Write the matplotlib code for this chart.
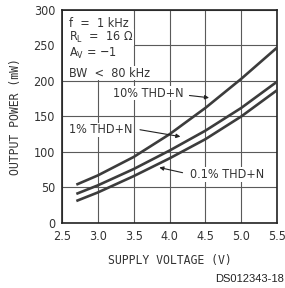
import matplotlib
matplotlib.use("Agg")
import matplotlib.pyplot as plt
from matplotlib.patches import Rectangle

# supply voltage (V) and output power (mW)
voltage = [2.7, 3.0, 3.5, 4.0, 4.5, 5.0, 5.5]
thd_10 = [54, 67, 93, 125, 162, 203, 247]
thd_1 = [41, 53, 76, 102, 130, 162, 199]
thd_01 = [31, 43, 66, 91, 118, 150, 187]

x_ticks = [2.5, 3.0, 3.5, 4.0, 4.5, 5.0, 5.5]
y_ticks = [0, 50, 100, 150, 200, 250, 300]

conditions = ["f  =  1 kHz", "R$_\\mathregular{L}$  =  16 Ω", "A$_\\mathregular{V}$ = \u22121", "BW  <  80 kHz"]

line_col = "#3c3c3c"
txt_col = "#333333"
mono = "DejaVu Sans Mono"
cond = dict(family="DejaVu Sans", stretch="condensed")

fig = plt.figure(figsize=(2.85, 2.88), dpi=100)
ax = fig.add_axes([0.2175, 0.2257, 0.7545, 0.7396])

for series in (thd_10, thd_1, thd_01):
    ax.plot(voltage, series, color=line_col, lw=1.9, solid_capstyle="butt", zorder=3)

ax.set_xlim(2.5, 5.5)
ax.set_ylim(0, 300)
ax.set_xticks(x_ticks)
ax.set_yticks(y_ticks)
ax.set_xticklabels([f"{v:.1f}" for v in x_ticks], fontsize=9, color=txt_col, **cond)
ax.set_yticklabels([str(v) for v in y_ticks], fontsize=9, color=txt_col, **cond)
ax.tick_params(length=0, pad=5)
ax.grid(True, color="#5a5a5a", lw=0.8)
ax.set_axisbelow(True)
for s in ax.spines.values():
    s.set_color("#222222")
    s.set_linewidth(1.2)

ax.set_xlabel("SUPPLY VOLTAGE (V)", family=mono, fontsize=8.3, color=txt_col, labelpad=8)
ax.set_ylabel("OUTPUT POWER (mW)", family=mono, fontsize=8.3, color=txt_col, labelpad=8)

# conditions block, white background over the grid
ax.add_patch(Rectangle((2.515, 201), 0.975, 98, facecolor="white", edgecolor="none", zorder=1.5))
cond_y = [281, 261, 239, 211]
for txt, yy in zip(conditions, cond_y):
    ax.text(2.6, yy, txt, fontsize=9, color=txt_col, va="center", ha="left", zorder=4,
            bbox=dict(facecolor="white", edgecolor="none", pad=0.5), **cond)

# curve labels with arrows
arrow = dict(arrowstyle="-|>", color="#222222", lw=0.8, mutation_scale=6)
ax.annotate("", xy=(4.59, 176), xytext=(4.24, 180), arrowprops=arrow, zorder=4)
ax.text(3.71, 183, "10% THD+N", fontsize=9, color=txt_col, ha="center", va="center", zorder=4,
        bbox=dict(facecolor="white", edgecolor="none", pad=0.5), **cond)

ax.annotate("", xy=(4.19, 121), xytext=(3.55, 132), arrowprops=arrow, zorder=4)
ax.text(3.04, 131, "1% THD+N", fontsize=9, color=txt_col, ha="center", va="center", zorder=4,
        bbox=dict(facecolor="white", edgecolor="none", pad=0.5), **cond)

ax.annotate("", xy=(3.82, 79), xytext=(4.22, 70), arrowprops=arrow, zorder=4)
ax.text(4.80, 68, "0.1% THD+N", fontsize=9, color=txt_col, ha="center", va="center", zorder=4,
        bbox=dict(facecolor="white", edgecolor="none", pad=0.5), **cond)

fig.text(0.995, 0.032, "DS012343-18", family="Liberation Sans", fontsize=8,
         color="#222222", ha="right", va="center")

fig.savefig("out.png", dpi=100)
